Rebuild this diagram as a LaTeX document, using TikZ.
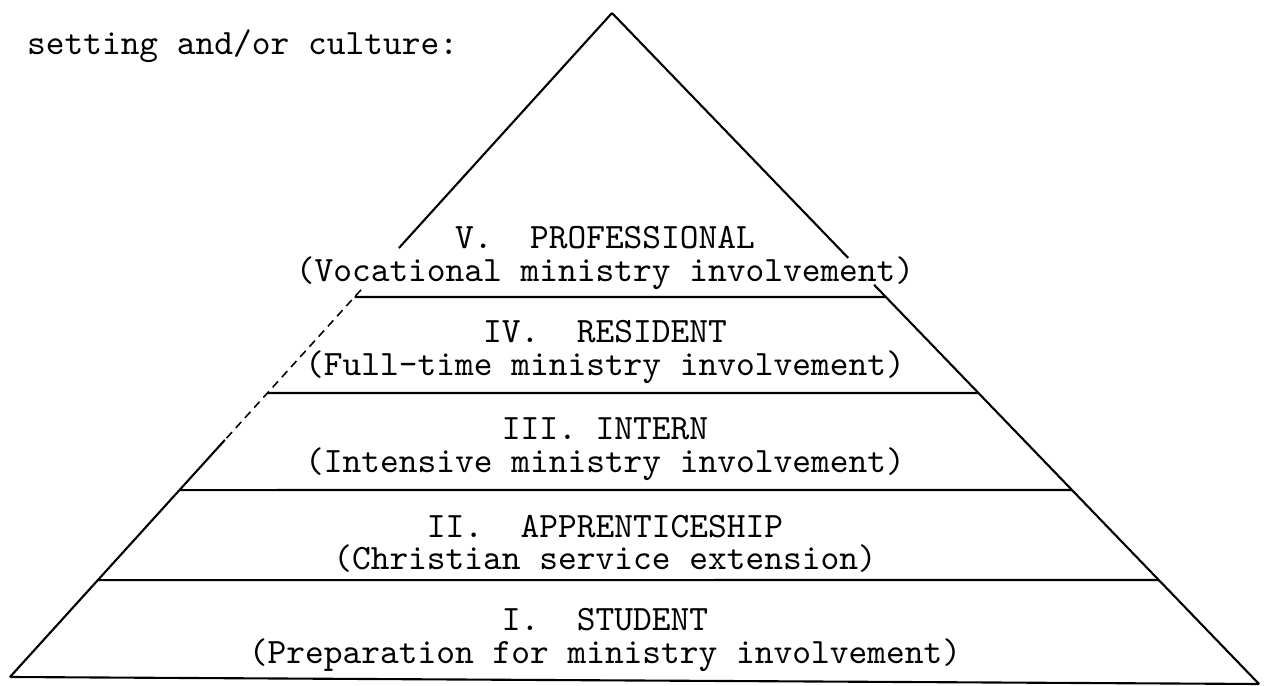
\documentclass[tikz,border=0pt]{standalone}
\usepackage{fontspec}
\usetikzlibrary{calc}

\begin{document}
\begin{tikzpicture}[x=0.01cm, y=-0.01cm, line width=0.6pt,
    tier/.style={font=\ttfamily\fontsize{10.15}{9.2}\selectfont,
      align=center, inner sep=0pt},
    faint/.style={dash pattern=on 2.3pt off 1.6pt, line width=0.45pt}]
\useasboundingbox (0,0) rectangle (1270,686);
% pyramid corners
\coordinate (apex) at (612,13);
\coordinate (bl) at (10,677);
\coordinate (br) at (1259,684);

% left side, broken near the top level
\draw (apex) -- ($(apex)!0.354!(bl)$);
\draw[faint] ($(apex)!0.417!(bl)$) -- ($(apex)!0.643!(bl)$);
\draw ($(apex)!0.643!(bl)$) -- (bl);
% right side
\draw (apex) -- ($(apex)!0.365!(br)$);
\draw ($(apex)!0.405!(br)$) -- (br);
% base
\draw (bl) -- (br);

% level dividers
\foreach \y in {297,393,490,580}
  \draw (intersection of apex--bl and 0,\y--100,\y)
     -- (intersection of apex--br and 0,\y--100,\y);

\node[tier, anchor=west] (header) at (26,46) {setting and/or culture:};

\node[tier] (prof)   at (605,258) {V.~~PROFESSIONAL\\(Vocational ministry involvement)};
\node[tier] (resid)  at (605,352) {IV.~~RESIDENT\\(Full-time ministry involvement)};
\node[tier] (intern) at (605,449) {III. INTERN\\(Intensive ministry involvement)};
\node[tier] (appr)   at (605,544) {II.~~APPRENTICESHIP\\(Christian service extension)};
\node[tier] (stud)   at (605,640) {I.~~STUDENT\\(Preparation for ministry involvement)};
\end{tikzpicture}
\end{document}
